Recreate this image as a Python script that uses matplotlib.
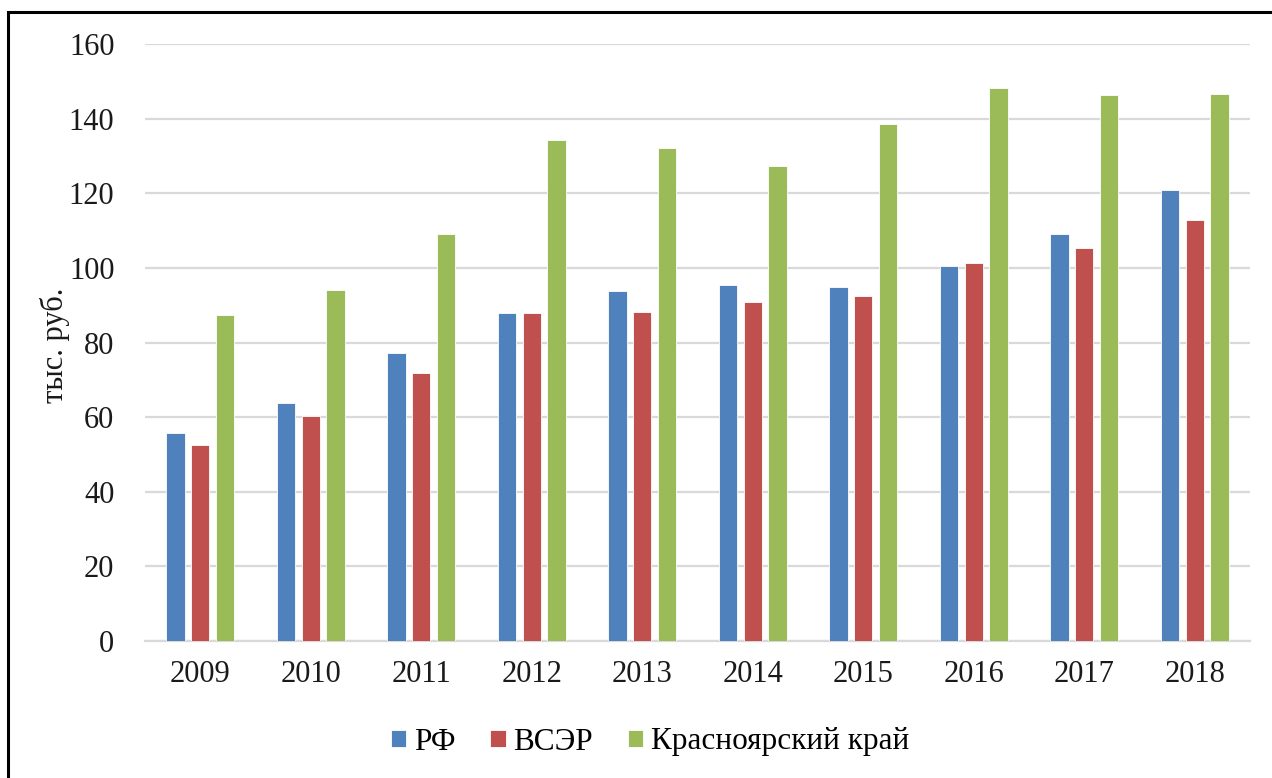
import numpy as np
import matplotlib.pyplot as plt
from matplotlib.patches import Rectangle

years = ['2009', '2010', '2011', '2012', '2013', '2014', '2015', '2016', '2017', '2018']
rf = [55.7, 63.8, 77.1, 87.8, 93.9, 95.4, 95.0, 100.5, 109.0, 120.9]
vser = [52.4, 60.2, 71.7, 87.8, 88.3, 90.8, 92.5, 101.3, 105.2, 112.8]
kras = [87.3, 94.1, 109.2, 134.3, 132.2, 127.3, 138.5, 148.3, 146.2, 146.5]
labels = ['РФ', 'ВСЭР', 'Красноярский край']
colors = ['#4F81BD', '#C0504D', '#9BBB59']

plt.rcParams['font.family'] = ['Liberation Serif', 'DejaVu Serif']

fig = plt.figure(figsize=(12.72, 7.78), dpi=100)
ax = fig.add_axes([145/1272, 1-641/778, (1250-145)/1272, (641-44)/778])

x = np.arange(len(years))
w = 0.167
step = 0.222
for i, (vals, lab, c) in enumerate(zip([rf, vser, kras], labels, colors)):
    ax.bar(x + (i-1)*step, vals, width=w, color=c, label=lab,
           edgecolor='white', linewidth=0.6, zorder=3)

ax.set_xlim(-0.5, len(years)-0.5)
ax.set_ylim(0, 160)
ax.set_yticks(np.arange(0, 161, 20))
ax.set_xticks(x)
ax.set_xticklabels(years)
ax.tick_params(axis='both', length=0, labelsize=22, colors='#1a1a1a')
ax.tick_params(axis='y', pad=22)
ax.tick_params(axis='x', pad=14)
ax.grid(axis='y', color='#D9D9D9', linewidth=1.6, zorder=0)
for s in ['top', 'right', 'left']:
    ax.spines[s].set_visible(False)
ax.spines['bottom'].set_color('#D9D9D9')
ax.spines['bottom'].set_linewidth(1.6)

fig.text(55/1272, 1-345/778, 'тыс. руб.', rotation=90, fontsize=22,
         ha='center', va='center', color='#1a1a1a')

leg = fig.legend(loc='center', bbox_to_anchor=(650/1272, 1-742/778), ncol=3,
                 frameon=False, fontsize=22.5, handlelength=0.5, handleheight=0.5,
                 handletextpad=0.25, columnspacing=1.1)

fig.patches.append(Rectangle((8/1272, -0.05), 1.1, 1-12/778+0.05,
                             transform=fig.transFigure, fill=False,
                             edgecolor='black', linewidth=2.2))

fig.savefig('out.png', dpi=100)
